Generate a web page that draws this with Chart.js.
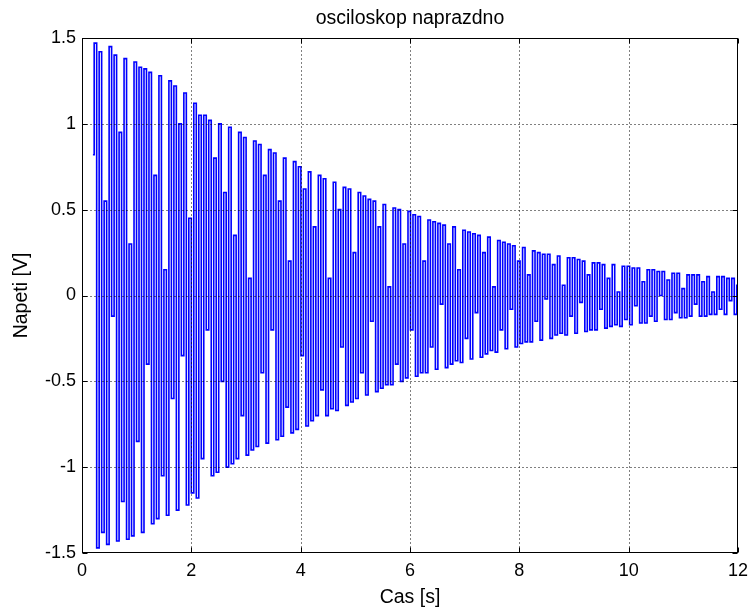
<!DOCTYPE html>
<html>
<head>
<meta charset="utf-8">
<title>osciloskop naprazdno</title>
<script src="https://cdn.jsdelivr.net/npm/chart.js@4/dist/chart.umd.min.js"></script>
<style>
  html, body { margin: 0; padding: 0; background: #fff; }
  #scope { display: block; }
</style>
</head>
<body>
<canvas id="scope" width="748" height="609"></canvas>
<script>
  // time span of the recorded samples [s]
  const tStart = 0.2;
  const tEnd = 12;

  const volts = [
    0.82, 1.47, -1.47, 1.42, -1.38, 0.55, -1.45, 1.45, -0.12, 1.40, -1.43, 0.95, -1.20, 1.38, -1.42, 0.30, -1.40, 1.36, -0.85, 1.33, -1.38, 1.32,
    -0.40, 1.30, -1.33, 0.70, -1.30, 1.28, -1.05, 0.15, -1.28, 1.25, -0.60, 1.22, -1.25, 1.00, -0.35, 1.18, -1.22, 0.45, -1.15, 1.12, -1.18, 1.05,
    -0.95, 1.05, -0.20, 1.02, -1.05, 0.80, -1.03, 1.00, -0.50, 0.60, -1.00, 0.98, -0.98, 0.35, -0.95, 0.95, -0.70, 0.92, -0.93, 0.10, -0.90, 0.90,
    -0.88, 0.88, -0.45, 0.70, -0.86, 0.85, -0.20, 0.83, -0.84, 0.55, -0.82, 0.80, -0.65, 0.20, -0.80, 0.78, -0.78, 0.75, -0.35, 0.62, -0.76, 0.72,
    -0.73, 0.40, -0.70, 0.70, -0.55, 0.68, -0.70, 0.10, -0.66, 0.66, -0.67, 0.50, -0.30, 0.63, -0.64, 0.62, -0.62, 0.25, -0.60, 0.60, -0.45, 0.58,
    -0.58, 0.56, -0.15, 0.55, -0.56, 0.40, -0.54, 0.53, -0.52, 0.05, -0.52, 0.51, -0.40, 0.50, -0.50, 0.30, -0.48, 0.49, -0.20, 0.47, -0.47, 0.46,
    -0.45, 0.20, -0.45, 0.44, -0.30, 0.43, -0.43, 0.42, -0.05, 0.41, -0.42, 0.30, -0.40, 0.40, -0.38, 0.15, -0.39, 0.38, -0.25, 0.37, -0.37, 0.36,
    -0.10, 0.35, -0.36, 0.25, -0.34, 0.34, -0.32, 0.05, -0.33, 0.32, -0.20, 0.31, -0.31, 0.30, -0.08, 0.29, -0.30, 0.20, -0.28, 0.28, -0.27, 0.12,
    -0.27, 0.26, -0.15, 0.25, -0.26, 0.24, -0.02, 0.24, -0.25, 0.18, -0.23, 0.23, -0.22, 0.06, -0.23, 0.22, -0.12, 0.22, -0.22, 0.21, -0.04, 0.20,
    -0.21, 0.12, -0.20, 0.19, -0.20, 0.19, -0.08, 0.18, -0.19, 0.10, -0.18, 0.18, -0.17, 0.02, -0.18, 0.17, -0.14, 0.17, -0.17, 0.16, -0.06, 0.16,
    -0.16, 0.08, -0.16, 0.15, -0.12, 0.15, -0.15, 0.14, 0.00, 0.14, -0.14, 0.09, -0.14, 0.13, -0.10, 0.13, -0.13, 0.04, -0.13, 0.12, -0.12, 0.12,
    -0.05, 0.12, -0.12, 0.08, -0.12, 0.11, -0.11, 0.02, -0.11, 0.11, -0.08, 0.11, -0.11, 0.10, -0.03, 0.10, -0.11, 0.06
  ];

  const xTicks = [0, 2, 4, 6, 8, 10, 12];
  const yTicks = [-1.5, -1, -0.5, 0, 0.5, 1, 1.5];

  const titleText = 'osciloskop naprazdno';
  const xLabel = 'Cas [s]';
  const yLabel = 'Napeti [V]';

  // samples are evenly spaced between tStart and tEnd
  const dt = (tEnd - tStart) / (volts.length - 1);
  const points = volts.map((v, i) => ({ x: tStart + i * dt, y: v }));

  const fontFamily = '"Liberation Sans", Arial, sans-serif';

  // MATLAB look: title over the axes, dotted grid over the data, inward ticks, closed box
  const matlabAxes = {
    id: 'matlabAxes',
    afterDatasetsDraw(chart) {
      const { ctx, chartArea: a, scales: { x, y } } = chart;
      const xs = x.ticks.map(t => Math.round(x.getPixelForValue(t.value)) + 0.5);
      const ys = y.ticks.map(t => Math.round(y.getPixelForValue(t.value)) + 0.5);
      const L = Math.round(a.left) + 0.5, R = Math.round(a.right) - 0.5;
      const T = Math.round(a.top) + 0.5, B = Math.round(a.bottom) - 0.5;
      ctx.save();
      ctx.strokeStyle = '#000';
      ctx.lineWidth = 1;

      // dotted grid
      ctx.setLineDash([1, 3]);
      ctx.beginPath();
      xs.forEach(px => {
        if (px > L + 1 && px < R - 1) { ctx.moveTo(px, T); ctx.lineTo(px, B); }
      });
      ys.forEach(py => {
        if (py > T + 1 && py < B - 1) { ctx.moveTo(L, py); ctx.lineTo(R, py); }
      });
      ctx.stroke();
      ctx.setLineDash([]);

      // inward tick marks
      const tl = 5;
      ctx.beginPath();
      xs.forEach(px => {
        ctx.moveTo(px, B); ctx.lineTo(px, B - tl);
        ctx.moveTo(px, T); ctx.lineTo(px, T + tl);
      });
      ys.forEach(py => {
        ctx.moveTo(L, py); ctx.lineTo(L + tl, py);
        ctx.moveTo(R, py); ctx.lineTo(R - tl, py);
      });
      ctx.stroke();

      // box
      ctx.strokeRect(L, T, R - L, B - T);

      // title, centred over the axes
      ctx.fillStyle = '#000';
      ctx.font = '19.5px ' + fontFamily;
      ctx.textAlign = 'center';
      ctx.textBaseline = 'alphabetic';
      ctx.fillText(titleText, (a.left + a.right) / 2, 24);
      ctx.restore();
    }
  };

  new Chart(document.getElementById('scope'), {
    type: 'line',
    data: {
      datasets: [{
        data: points,
        borderColor: '#0000ff',
        borderWidth: 1.6,
        stepped: 'middle',
        pointRadius: 0,
        fill: false
      }]
    },
    options: {
      responsive: false,
      animation: false,
      devicePixelRatio: 1,
      layout: { padding: { left: 0, right: 10, top: 38, bottom: 0 } },
      plugins: {
        legend: { display: false },
        tooltip: { enabled: false },
        title: { display: false }
      },
      scales: {
        x: {
          type: 'linear',
          min: 0,
          max: 12,
          afterBuildTicks: s => { s.ticks = xTicks.map(v => ({ value: v })); },
          afterFit: s => { s.height = 56; s.paddingLeft = 0; s.paddingRight = 0; },
          grid: { display: false, drawTicks: false },
          border: { display: false },
          ticks: {
            color: '#000',
            padding: 7,
            maxRotation: 0,
            font: { family: fontFamily, size: 18 },
            callback: v => String(v)
          },
          title: {
            display: true,
            text: xLabel,
            color: '#000',
            font: { family: fontFamily, size: 19.5 },
            padding: { top: 0, bottom: 0 }
          }
        },
        y: {
          type: 'linear',
          min: -1.5,
          max: 1.5,
          afterBuildTicks: s => { s.ticks = yTicks.map(v => ({ value: v })); },
          afterFit: s => { s.width = 82; s.paddingTop = 0; s.paddingBottom = 0; },
          grid: { display: false, drawTicks: false },
          border: { display: false },
          ticks: {
            color: '#000',
            padding: 6,
            font: { family: fontFamily, size: 18 },
            callback: v => String(v)
          },
          title: {
            display: true,
            text: yLabel,
            color: '#000',
            font: { family: fontFamily, size: 19.5 },
            padding: { top: 9.5, bottom: 0 }
          }
        }
      }
    },
    plugins: [matlabAxes]
  });
</script>
</body>
</html>
